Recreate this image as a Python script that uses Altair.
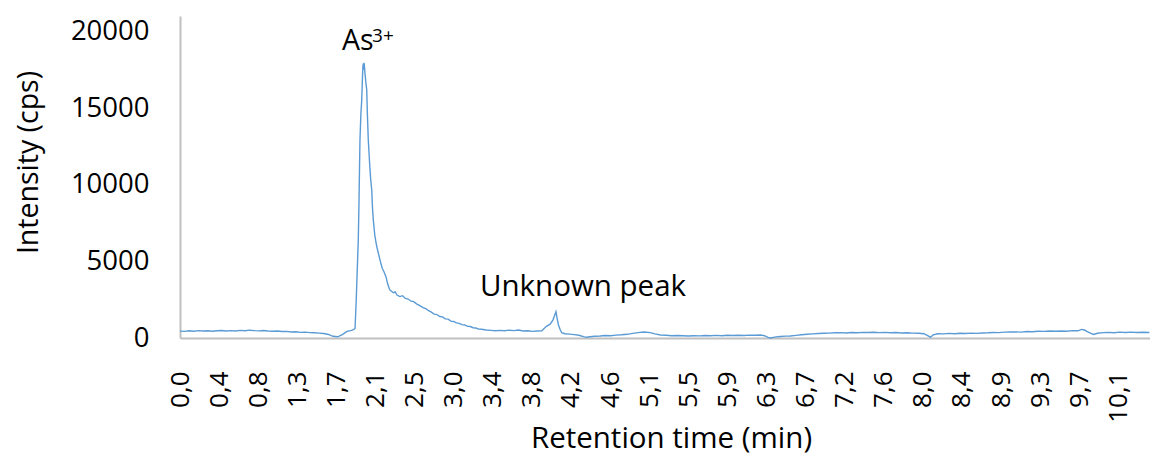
import altair as alt
import pandas as pd

# Chromatogram trace: retention time (min) and ICP-MS intensity (cps)
time_base = [0.00, 0.05, 0.10, 0.15, 0.20, 0.25, 0.30, 0.35, 0.40, 0.45,
             0.50, 0.55, 0.60, 0.65, 0.70, 0.75, 0.80, 0.85, 0.90, 0.95,
             1.00, 1.05, 1.10, 1.15, 1.20, 1.25, 1.30, 1.35, 1.40, 1.45,
             1.50, 1.55, 1.60, 1.65, 1.70, 1.75, 1.80, 1.85]
int_base = [450, 430, 470, 445, 480, 455, 475, 440, 470, 490,
            455, 480, 460, 495, 470, 510, 480, 465, 490, 455,
            440, 460, 420, 430, 395, 410, 370, 385, 350, 345,
            320, 295, 230, 110, 80, 220, 430, 500]

time_as = [1.875, 1.887, 1.900, 1.910, 1.922, 1.930, 1.940, 1.950, 1.959, 1.967,
           1.972, 1.976, 1.980, 1.984, 1.990, 1.995, 2.003, 2.013, 2.020, 2.030,
           2.045, 2.055, 2.067, 2.075, 2.084, 2.100, 2.120, 2.138, 2.160, 2.180,
           2.200, 2.220, 2.240, 2.260, 2.280, 2.300, 2.320, 2.340, 2.370, 2.400,
           2.430, 2.460, 2.490, 2.520, 2.550, 2.590, 2.620, 2.650, 2.680, 2.710,
           2.740, 2.770, 2.800, 2.830, 2.860, 2.890, 2.920, 2.950, 2.980, 3.010,
           3.040, 3.070, 3.100, 3.130, 3.160, 3.190, 3.220, 3.250, 3.300, 3.350,
           3.400, 3.450, 3.500, 3.550, 3.600, 3.650, 3.700, 3.750, 3.800, 3.850,
           3.900]
int_as = [560, 620, 2500, 4300, 6400, 9000, 12900, 14600, 15500, 17000,
          17700, 17900, 17500, 17950, 17600, 17200, 16700, 16200, 14600, 12900,
          11300, 10400, 9650, 8500, 7700, 6700, 6000, 5540, 5000, 4550,
          4300, 4000, 3500, 3150, 3050, 2950, 3000, 2800, 2700, 2760,
          2580, 2540, 2400, 2370, 2230, 2090, 1980, 1910, 1780, 1690,
          1560, 1530, 1400, 1380, 1250, 1230, 1100, 1080, 990, 950,
          870, 850, 760, 750, 670, 650, 580, 570, 520, 500,
          470, 500, 470, 510, 480, 520, 460, 470, 430, 455,
          470]

time_unk = [3.950, 3.990, 4.020, 4.040, 4.053, 4.065, 4.080, 4.100, 4.115, 4.150,
            4.200, 4.250, 4.300, 4.350, 4.380, 4.420, 4.470, 4.530, 4.580, 4.640,
            4.700, 4.760, 4.820, 4.880, 4.940, 5.000, 5.070, 5.120, 5.180, 5.240,
            5.300, 5.360, 5.420, 5.480, 5.540, 5.600, 5.660, 5.720, 5.780, 5.840,
            5.900, 5.960, 6.020, 6.080, 6.140, 6.200, 6.260, 6.300, 6.340, 6.370,
            6.410, 6.470, 6.530, 6.580, 6.640, 6.700, 6.760, 6.820, 6.880, 6.940,
            7.000, 7.060, 7.120, 7.180, 7.240, 7.300, 7.360, 7.420, 7.480, 7.540,
            7.600, 7.660, 7.720, 7.780, 7.840, 7.900, 7.960, 8.020, 8.060, 8.090,
            8.120, 8.170, 8.230, 8.290, 8.350, 8.410, 8.470, 8.530, 8.590, 8.650,
            8.710, 8.770, 8.830, 8.890, 8.950, 9.010, 9.070, 9.130, 9.190, 9.250,
            9.310, 9.380, 9.440, 9.500, 9.560, 9.620, 9.680, 9.720, 9.750, 9.780,
            9.820, 9.850, 9.890, 9.950, 10.010, 10.070, 10.130, 10.190, 10.250, 10.310,
            10.380, 10.450]
int_unk = [760, 900, 1170, 1500, 1715, 1300, 850, 520, 350, 280,
           250, 220, 180, 90, 45, 80, 110, 130, 160, 150,
           190, 210, 240, 300, 350, 390, 350, 270, 195, 180,
           150, 165, 150, 130, 150, 140, 165, 150, 170, 150,
           175, 160, 180, 165, 190, 175, 195, 150, 40, 0,
           60, 100, 120, 130, 170, 210, 240, 270, 290, 310,
           320, 340, 350, 330, 360, 345, 370, 355, 375, 350,
           365, 340, 355, 330, 345, 320, 310, 280, 150, 50,
           200, 280, 270, 300, 280, 310, 295, 320, 300, 330,
           340, 360, 350, 380, 390, 400, 385, 420, 410, 440,
           430, 455, 440, 460, 445, 480, 470, 560, 520, 420,
           300, 230, 310, 350, 370, 340, 380, 355, 385, 360,
           375, 360]

trace = pd.DataFrame({
    "time": time_base + time_as + time_unk,
    "intensity": int_base + int_as + int_unk,
})

# Category-style time labels every 0.4215 min
x_step = 0.4215
x_ticks = [round(i * x_step, 4) for i in range(25)]
y_ticks = [0, 5000, 10000, 15000, 20000]

FONT = "Open Sans"
x_scale = alt.Scale(domain=[0, 10.457], nice=False, zero=False)
y_scale = alt.Scale(domain=[0, 21000], nice=False)

line = alt.Chart(trace).mark_line(color="#5B9BD5", strokeWidth=1.4).encode(
    x=alt.X("time:Q", scale=x_scale,
            axis=alt.Axis(values=x_ticks, labelAngle=-90,
                          labelExpr="replace(format(datum.value, '.1f'), '.', ',')",
                          ticks=False, grid=False, labelPadding=33,
                          labelFontSize=26, labelFont=FONT, labelColor="#000000",
                          domainColor="#C0C0C0", domainWidth=2,
                          title="Retention time (min)", titleFont=FONT,
                          titleFontSize=29.5, titleFontWeight="normal",
                          titleColor="#000000", titleX=491, titleY=100,
                          titleAlign="center", titleBaseline="middle",
                          labelOverlap=False)),
    y=alt.Y("intensity:Q", scale=y_scale,
            axis=alt.Axis(values=y_ticks, format="d", ticks=False, grid=False,
                          labelPadding=31, labelFontSize=27.5, labelFont=FONT,
                          labelColor="#000000", domainColor="#C0C0C0",
                          domainWidth=2, title="Intensity (cps)",
                          titleFont=FONT, titleFontSize=28.5,
                          titleFontWeight="normal", titleColor="#000000",
                          titleAngle=270, titleX=-152, titleY=146,
                          titleAlign="center", titleBaseline="middle")),
)

# Peak annotations
ann_main = pd.DataFrame({"time": [1.746], "intensity": [18790], "label": ["As"]})
ann_sup = pd.DataFrame({"time": [2.07], "intensity": [19310], "label": ["3+"]})
ann_unk = pd.DataFrame({"time": [3.234], "intensity": [2740], "label": ["Unknown peak"]})

def annotate(df, size):
    return alt.Chart(df).mark_text(
        align="left", baseline="alphabetic", font=FONT, fontSize=size,
        color="#000000",
    ).encode(x=alt.X("time:Q", scale=x_scale),
             y=alt.Y("intensity:Q", scale=y_scale),
             text="label:N")

chart = alt.layer(
    line,
    annotate(ann_main, 28.5),
    annotate(ann_sup, 19),
    annotate(ann_unk, 29.5),
).properties(
    width=970, height=322,
    autosize=alt.AutoSizeParams(type="none"),
    padding={"left": 180, "top": 16, "right": 0, "bottom": 119},
    background="white",
).configure_view(stroke=None)

chart.save("out.html", embed_options={"renderer": "svg", "actions": False})
